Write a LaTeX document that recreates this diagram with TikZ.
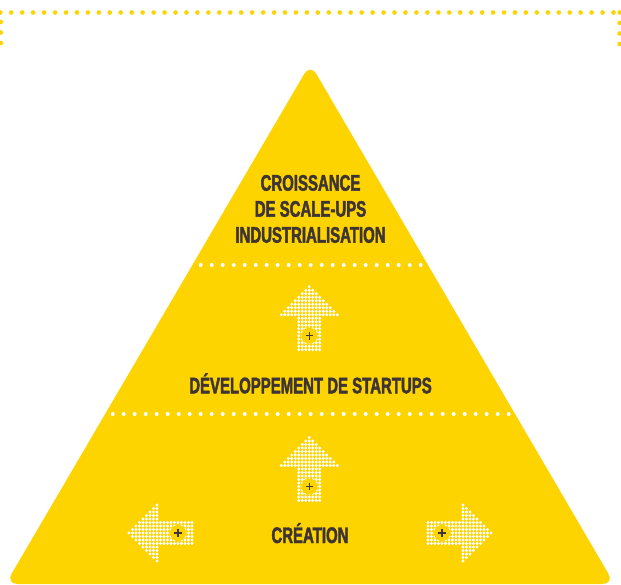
\documentclass[tikz,border=0pt]{standalone}
\usepackage{fontspec}
\newfontfamily\condfont{Liberation Sans}[FakeStretch=0.665,FakeBold=2]
\definecolor{pyr}{HTML}{FDD300}
\definecolor{ink}{HTML}{3D3433}
\newcommand\pyrarrow[4]{%
  \foreach \k in {0,...,8}{\foreach \j in {-8,...,8}{%
    \pgfmathtruncatemacro\aj{abs(\j)}%
    \ifnum\aj>\k\relax\else
      \fill[white] ({#1+3.5*(\k*(#3)+\j*(#4))},{#2+3.5*(\k*(#4)+\j*(#3))}) circle (1.62);
    \fi}}%
  \foreach \k in {9,...,18}{\foreach \j in {-3,...,3}{%
      \fill[white] ({#1+3.5*(\k*(#3)+\j*(#4))},{#2+3.5*(\k*(#4)+\j*(#3))}) circle (1.62);}}%
  \fill[pyr] ({#1+49*(#3)},{#2+49*(#4)}) circle (8);
  \draw[ink, line width=1.4pt] ({#1+49*(#3)-3.8},{#2+49*(#4)}) -- ({#1+49*(#3)+3.8},{#2+49*(#4)})
     ({#1+49*(#3)},{#2+49*(#4)-3.8}) -- ({#1+49*(#3)},{#2+49*(#4)+3.8});
}
\begin{document}
\begin{tikzpicture}[x=1pt,y=-1pt,
  lbl/.style={font=\condfont\bfseries\fontsize{22.5}{26}\selectfont, text=ink, inner sep=0pt, anchor=base}]
\useasboundingbox (0,0) rectangle (621,584);
% top dotted frame
\foreach \i in {0,...,56} \fill[pyr] (0.3+10.95*\i,12.5) circle (2.3);
\fill[pyr] (619.6,12.5) circle (2.3);
\foreach \yy in {22,32.5,43} \fill[pyr] (0.8,\yy) circle (2.3);
\foreach \yy in {23,33.5,44} \fill[pyr] (619.6,\yy) circle (2.3);
% pyramid
\fill[pyr, rounded corners=12pt] (310.3,63.6) -- (614.4,584) -- (5.6,584) -- cycle;
% white dotted separators
\foreach \i in {-10,...,10} \fill[white] (310.7+11*\i,265) circle (2);
\foreach \i in {-18,...,18} \fill[white] (310.7+11*\i,414) circle (2);
% arrows
\pyrarrow{309.3}{286.7}{0}{1}
\pyrarrow{309.3}{437.5}{0}{1}
\pyrarrow{129}{533}{1}{0}
\pyrarrow{491}{533}{-1}{0}
% labels
\node[lbl] (t1) at (310.5,190.7) {CROISSANCE};
\node[lbl] (t2) at (310.5,216.7) {DE SCALE-UPS};
\node[lbl] (t3) at (310.5,242.7) {INDUSTRIALISATION};
\node[lbl] (t4) at (310.5,393.3) {DÉVELOPPEMENT DE STARTUPS};
\node[lbl] (t5) at (310,543) {CRÉATION};
\end{tikzpicture}
\end{document}
